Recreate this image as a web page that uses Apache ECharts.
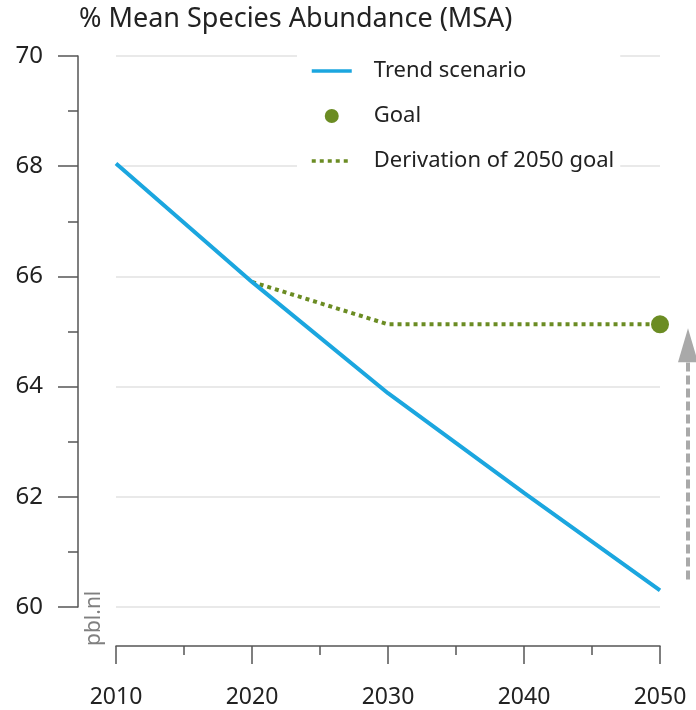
<!DOCTYPE html>
<html>
<head>
<meta charset="utf-8">
<script src="https://cdn.jsdelivr.net/npm/echarts@6/dist/echarts.min.js"></script>
<style>
  html, body { margin: 0; padding: 0; background: #fff; }
  #main { width: 696px; height: 710px; }
</style>
</head>
<body>
<div id="main"></div>
<script>
var chartDom = document.getElementById('main');
var myChart = echarts.init(chartDom);
var option;

// data
var years = [2010, 2020, 2030, 2040, 2050];
var trendValues = [68.05, 65.9, 63.88, 62.07, 60.3];
var derivYears = [2020, 2030, 2050];
var derivValues = [65.9, 65.13, 65.13];
var goalYear = 2050;
var goalValue = 65.13;
var arrowFrom = 60.5;
var arrowTo = 64.75;

var font = 'Noto Sans';
var blue = '#1ba6df';
var green = '#6b8c23';

function pairs(xs, ys) {
  return xs.map(function (x, i) { return [x, ys[i]]; });
}

option = {
  backgroundColor: '#fff',
  animation: false,
  textStyle: { fontFamily: font },
  title: {
    text: '% Mean Species Abundance (MSA)',
    left: 74,
    top: 1,
    textStyle: { fontFamily: font, fontSize: 27, fontWeight: 'normal', color: '#222' }
  },
  legend: {
    orient: 'vertical',
    left: 297,
    top: 52,
    padding: [8, 6, 6, 13],
    backgroundColor: '#fff',
    itemWidth: 40,
    itemHeight: 14,
    itemGap: 23,
    lineStyle: { width: 3.5 },
    textStyle: { fontFamily: font, fontSize: 22, color: '#222', padding: [0, 0, 0, 17] },
    data: [
      { name: 'Trend scenario', itemStyle: { opacity: 0 } },
      { name: 'Goal' },
      { name: 'Derivation of 2050 goal', itemStyle: { opacity: 0 } }
    ]
  },
  grid: [
    { left: 116, right: 36, top: 56, bottom: 103 },
    { left: 680, width: 16, top: 56, bottom: 103 }
  ],
  xAxis: [
    {
      type: 'value',
      min: 2010,
      max: 2050,
      interval: 10,
      offset: 39,
      axisLine: { show: true, lineStyle: { color: '#555', width: 1.5 } },
      axisTick: { show: true, length: 18, lineStyle: { color: '#555', width: 1.5 } },
      minorTick: { show: true, splitNumber: 2, length: 9, lineStyle: { color: '#555', width: 1.5 } },
      axisLabel: {
        margin: 40, fontSize: 23, color: '#222', fontFamily: font,
        formatter: function (v) { return String(v); }
      },
      splitLine: { show: false }
    },
    { gridIndex: 1, type: 'value', min: 0, max: 1, show: false }
  ],
  yAxis: [
    {
      type: 'value',
      min: 60,
      max: 70,
      interval: 2,
      offset: 38,
      axisLine: { show: true, lineStyle: { color: '#555', width: 1.5 } },
      axisTick: { show: true, length: 20, lineStyle: { color: '#555', width: 1.5 } },
      minorTick: { show: true, splitNumber: 2, length: 10, lineStyle: { color: '#555', width: 1.5 } },
      axisLabel: { margin: 35, fontSize: 24, color: '#222', fontFamily: font },
      splitLine: { show: true, lineStyle: { color: '#e2e2e2', width: 1.5 } }
    },
    { gridIndex: 1, type: 'value', min: 60, max: 70, show: false }
  ],
  series: [
    {
      name: 'Trend scenario',
      type: 'line',
      data: pairs(years, trendValues),
      symbol: 'none',
      color: blue,
      lineStyle: { color: blue, width: 4 },
      z: 3
    },
    {
      name: 'Derivation of 2050 goal',
      type: 'line',
      data: pairs(derivYears, derivValues),
      symbol: 'none',
      color: green,
      lineStyle: { color: green, width: 4, type: [4, 4] },
      z: 2
    },
    {
      name: 'Goal',
      type: 'scatter',
      data: [[goalYear, goalValue]],
      symbol: 'circle',
      symbolSize: 18,
      color: green,
      itemStyle: { color: green, opacity: 1 },
      clip: false,
      z: 4
    },
    {
      type: 'line',
      xAxisIndex: 1,
      yAxisIndex: 1,
      data: [],
      silent: true,
      markLine: {
        silent: true,
        animation: false,
        symbol: ['none', 'triangle'],
        symbolSize: [20, 34],
        label: { show: false },
        lineStyle: { color: '#a9a9a9', width: 4, type: [9, 4] },
        data: [[{ coord: [0.5, arrowFrom] }, { coord: [0.5, arrowTo] }]]
      }
    }
  ],
  graphic: [
    {
      type: 'text',
      x: 84,
      y: 646,
      rotation: Math.PI / 2,
      style: { text: 'pbl.nl', fill: '#808080', font: '21px "Noto Sans"' }
    }
  ]
};

option && myChart.setOption(option);
</script>
</body>
</html>
